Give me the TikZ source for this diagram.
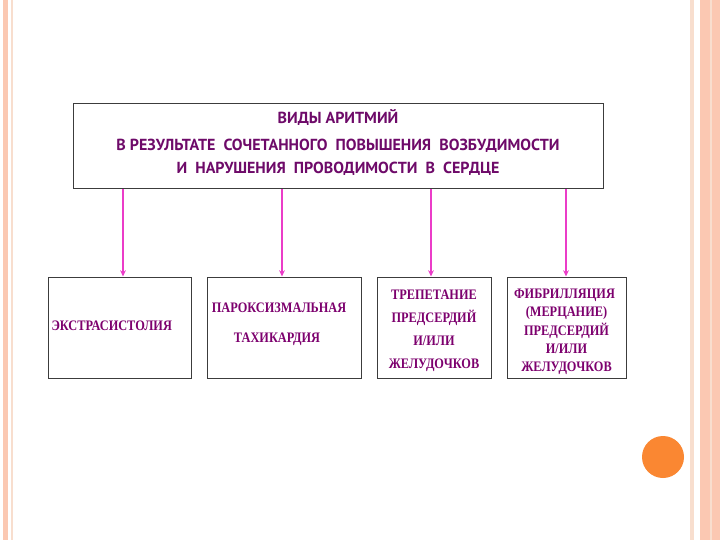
\documentclass[tikz,border=0pt]{standalone}
\usepackage{fontspec}
\setmainfont{Liberation Serif}
\newfontfamily\headfont{PT Sans}
\newfontfamily\kindfont[FakeStretch=0.85]{Liberation Serif}
\usepackage{tikz}
\usetikzlibrary{arrows.meta, positioning}
\definecolor{slidepeach}{RGB}{251,200,178}
\definecolor{slidepale}{RGB}{248,222,206}
\definecolor{dotorange}{RGB}{250,135,50}
\definecolor{headpurple}{RGB}{110,10,105}
\definecolor{kindpurple}{RGB}{125,0,110}
\definecolor{linkpink}{RGB}{235,60,200}
\definecolor{boxgray}{RGB}{60,60,60}
% lines of a box text, moved up or down inside the box
\newcommand{\boxlines}[2]{\raisebox{#1}[\height][\depth]{\begin{tabular}{@{}c@{}}#2\end{tabular}}}
\tikzstyle{headbox} = [
  rectangle, draw=boxgray, line width=1pt, minimum width=530pt,
  minimum height=85pt, inner sep=0pt, align=center, text=headpurple,
  font=\headfont\bfseries\fontsize{16}{23}\selectfont
]
\tikzstyle{kindbox} = [
  rectangle, draw=boxgray, line width=1pt, minimum height=101pt,
  inner sep=0pt, align=center, text=kindpurple,
  font=\kindfont\bfseries\fontsize{14.5}{16}\selectfont
]
\tikzstyle{arrow} = [-{Stealth[length=2.2mm, width=2mm]}, line width=1.2pt, linkpink]

\begin{document}
\begin{tikzpicture}[x=1pt, y=-1pt]

  % slide background
  \useasboundingbox (0, 0) rectangle (720, 540);
  \fill[white] (0, 0) rectangle (720, 540);
  \fill[slidepeach] (3, 0) rectangle (8, 540);
  \fill[slidepale] (11, 0) rectangle (13, 540);
  \fill[slidepale] (690, 0) rectangle (694, 540);
  \fill[slidepeach] (700, 0) rectangle (720, 540);
  \fill[slidepale] (710, 0) rectangle (712, 540);
  \fill[dotorange] (663, 457) circle (21);

  \node[headbox] (head) at (338, 146.5)
    {\boxlines{3pt}{ВИДЫ АРИТМИЙ\\[4pt]
     В РЕЗУЛЬТАТЕ\ \ СОЧЕТАННОГО\ \ ПОВЫШЕНИЯ\ \ ВОЗБУДИМОСТИ\\
     И\ \ НАРУШЕНИЯ\ \ ПРОВОДИМОСТИ\ \ В\ \ СЕРДЦЕ}};

  \node[kindbox, minimum width=143pt, text width=136pt, align=left] (extra) at (119.5, 327.5)
    {\raisebox{2pt}[\height][\depth]{ЭКСТРАСИСТОЛИЯ}};
  \node[kindbox, minimum width=154pt] (tachy) at (284, 327.5)
    {\boxlines{3pt}{\hspace*{-10pt}ПАРОКСИЗМАЛЬНАЯ\\[14pt]\hspace*{-14pt}ТАХИКАРДИЯ}};
  \node[kindbox, minimum width=114pt, font=\kindfont\bfseries\fontsize{14.5}{22.7}\selectfont] (flutter) at (434, 327.5)
    {\boxlines{-2pt}{ТРЕПЕТАНИЕ\\ ПРЕДСЕРДИЙ\\ И/ИЛИ\\ ЖЕЛУДОЧКОВ}};
  \node[kindbox, minimum width=119pt, font=\kindfont\bfseries\fontsize{14.5}{18.3}\selectfont] (fibril) at (566.5, 327.5)
    {\boxlines{-4pt}{\hspace*{-4pt}ФИБРИЛЛЯЦИЯ\\ (МЕРЦАНИЕ)\\ ПРЕДСЕРДИЙ\\ И/ИЛИ\\ ЖЕЛУДОЧКОВ}};

  \foreach \kind/\dx in {extra/3.5, tachy/-2, flutter/-3, fibril/-0.5}
    \draw[arrow] ([xshift=\dx pt]head.south -| \kind.north) -- ([xshift=\dx pt]\kind.north);

\end{tikzpicture}
\end{document}
